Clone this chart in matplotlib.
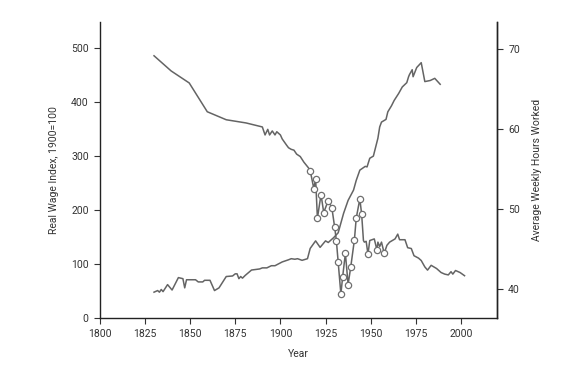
import matplotlib.pyplot as plt
import numpy as np

plt.rcParams['font.family'] = ['Roboto', 'DejaVu Sans']

# Real wage index (1900=100)
wage_years = [1830, 1832, 1833, 1834, 1835, 1837.5, 1840, 1843.5, 1846, 1847, 1848,
              1853, 1854.5, 1857, 1858, 1861, 1863.5, 1866, 1870, 1873.5, 1875, 1876,
              1877, 1878, 1879, 1880.5, 1884, 1888.5, 1890, 1892.5, 1895, 1897, 1901,
              1904.5, 1906, 1908, 1909.5, 1912, 1915, 1916.5, 1919.5, 1922, 1925, 1926.5,
              1929.5, 1932, 1935, 1937.5, 1940.5, 1942, 1944, 1947, 1948, 1949.5, 1951.5,
              1954, 1955, 1956, 1958.5, 1959.5, 1961.5, 1963, 1965.5, 1967.5, 1970, 1971,
              1971.5, 1973, 1973.5, 1975.5, 1978, 1980, 1983, 1985.5, 1988.5]
wage = [48, 51, 48, 53, 49, 62, 52, 75, 73, 56, 71,
        71, 67, 67, 70, 70, 51, 56, 77, 78, 82, 82,
        73, 77, 74, 79, 89, 91, 93, 93, 97, 97, 104,
        108, 110, 109, 110, 107, 110, 129, 143, 131, 143, 140,
        149, 158, 194, 218, 237, 255, 274, 281, 280, 296, 300,
        333, 354, 363, 368, 382, 393, 403, 416, 428, 436, 447,
        451, 460, 447, 464, 473, 438, 440, 444, 433]

# Average weekly hours worked
hours_years = [1830, 1839.5, 1849.5, 1859.5, 1870, 1881, 1890, 1891.5, 1893, 1894,
               1895.5, 1897, 1898, 1900, 1901, 1903.5, 1904.5, 1906, 1907.5, 1909, 1911,
               1913, 1915.5,
               1916.5, 1918.5, 1919.5, 1920.5, 1922.5, 1924, 1926.5, 1928.5, 1930, 1931,
               1932, 1933.5, 1934.5, 1936, 1937.5, 1939, 1941, 1942, 1944, 1945,
               1946, 1946.5, 1947.5, 1948.5, 1949.5, 1952, 1953.5, 1954, 1955, 1956,
               1957.5, 1959, 1960.5, 1963.5, 1965, 1966, 1969, 1970.5, 1972.5, 1974,
               1976.5, 1978, 1980, 1981.5, 1983.5, 1986.5, 1989, 1991, 1993, 1994.5,
               1995.5, 1997, 1999.5, 2002]
hours = [69.1, 67.2, 65.7, 62.1, 61.1, 60.7, 60.2, 59.2, 59.9, 59.2,
         59.7, 59.2, 59.6, 59.2, 58.7, 57.9, 57.6, 57.4, 57.3, 56.8, 56.5,
         55.8, 55.1,
         54.75, 52.5, 53.7, 48.8, 51.75, 49.5, 51.0, 50.1, 47.75, 46.0,
         43.3, 39.3, 41.5, 44.4, 40.5, 42.75, 46.1, 48.8, 51.2, 49.3,
         46.0, 45.8, 45.9, 44.3, 46.0, 46.2, 44.8, 45.8, 45.25, 45.8,
         44.4, 45.4, 45.8, 46.2, 46.8, 46.1, 46.1, 45.1, 45.0, 44.1,
         43.8, 43.5, 42.7, 42.3, 42.9, 42.5, 42.0, 41.8, 41.7, 42.1,
         41.8, 42.25, 42.0, 41.6]
# years drawn with open circle markers
marked_years = [1916.5, 1918.5, 1919.5, 1920.5, 1922.5, 1924, 1926.5, 1928.5, 1930,
                1931, 1932, 1933.5, 1934.5, 1936, 1937.5, 1939, 1941, 1942, 1944, 1945,
                1948.5, 1953.5, 1957.5]

line_col = '#646464'
text_col = '#333333'

fig = plt.figure(figsize=(5.61, 3.76), dpi=100)
ax = fig.add_axes([0.178, 0.154, 0.708, 0.787])
ax2 = ax.twinx()

ax.plot(wage_years, wage, color=line_col, lw=1.1)

ax2.plot(hours_years, hours, color=line_col, lw=1.1)
mask = np.isin(hours_years, marked_years)
ax2.plot(np.array(hours_years)[mask], np.array(hours)[mask], 'o', ms=4.5,
         mfc='white', mec='#707070', mew=0.9)

ax.set_xlim(1800, 2020)
ax.set_ylim(0, 548)
ax2.set_ylim(36.3, 73.3)
ax.set_xticks(range(1800, 2001, 25))
ax.set_yticks(range(0, 501, 100))
ax2.set_yticks([40, 50, 60, 70])

for a in (ax, ax2):
    a.spines['top'].set_visible(False)
    for s in a.spines.values():
        s.set_color('#222222')
        s.set_linewidth(1.0)
    a.tick_params(labelsize=7.5, colors=text_col, length=4, width=0.8, pad=4)
ax2.spines['left'].set_visible(False)
ax2.spines['bottom'].set_visible(False)

ax.set_xlabel('Year', fontsize=7.5, color=text_col, labelpad=7)
ax.set_ylabel('Real Wage Index, 1900=100', fontsize=7.5, color=text_col, labelpad=9)
ax2.set_ylabel('Average Weekly Hours Worked', fontsize=7.5, color=text_col, labelpad=9)

fig.savefig('out.png', dpi=100)
